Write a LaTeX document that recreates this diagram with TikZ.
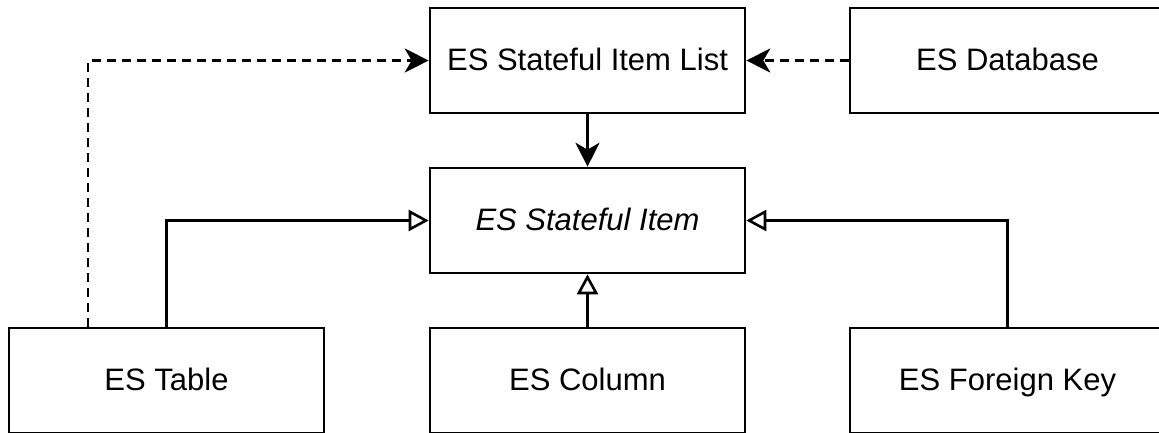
\documentclass[tikz,border=0pt]{standalone}
\usepackage{fontspec}
\setmainfont{Liberation Sans}
\usetikzlibrary{arrows.meta}
\begin{document}
\begin{tikzpicture}[x=1pt,y=-1pt,
  box/.style={draw, line width=2.6pt, minimum width=315pt, minimum height=105pt, inner sep=0pt, text height=22pt, text depth=2pt, font=\fontsize{31}{37}\selectfont},
  conn/.style={line width=2.6pt},
  dep/.style={conn, dash pattern=on 9pt off 6pt, -{Stealth[length=24pt,width=24pt,inset=7pt]}},
  assoc/.style={conn, -{Stealth[length=24pt,width=24pt,inset=7pt]}},
  gen/.style={conn, -{Triangle[open,length=20pt,width=21pt,line width=2.6pt]}}]
\useasboundingbox (0,0) rectangle (1159,432);
\clip (0,0) rectangle (1159,432);
\node[box] (sil) at (587.5,60.5) {ES Stateful Item List};
\node[box] (db) at (1007.5,60.5) {ES Database};
\node[box] (si) at (587.5,220.5) {\itshape ES Stateful Item};
\node[box] (tab) at (166.5,380.5) {ES Table};
\node[box] (col) at (587.5,380.5) {ES Column};
\node[box] (fk) at (1007.5,380.5) {ES Foreign Key};
\draw[dep] ([xshift=-78.5pt]tab.north) |- (sil.west);
\draw[dep] (db.west) -- (sil.east);
\draw[assoc] (sil.south) -- (si.north);
\draw[gen] (tab.north) |- (si.west);
\draw[gen] (col.north) -- (si.south);
\draw[gen] (fk.north) |- (si.east);
\end{tikzpicture}
\end{document}
